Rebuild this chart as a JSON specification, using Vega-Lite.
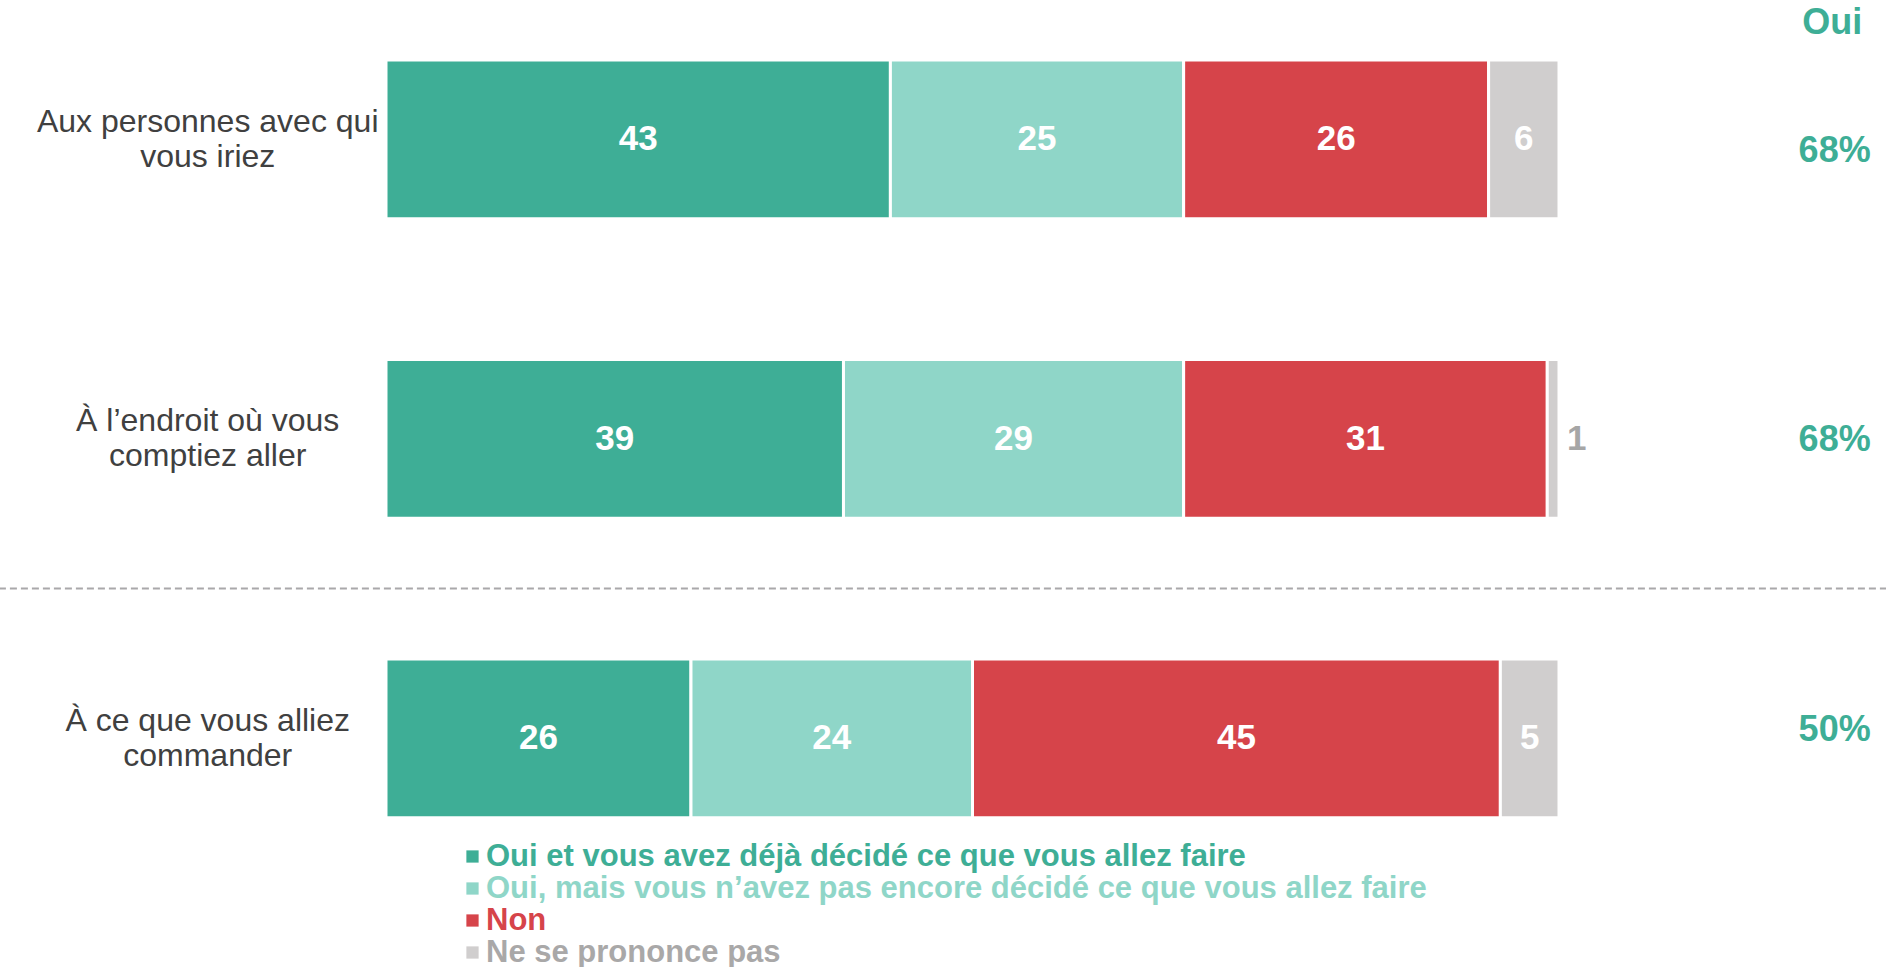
{
  "$schema": "https://vega.github.io/schema/vega-lite/v6.json",
  "width": 1886,
  "height": 967,
  "padding": 0,
  "autosize": "none",
  "background": "white",
  "config": {"view": {"stroke": null}, "font": "Liberation Sans"},
  "datasets": {
    "bars": [
      {"q": "Q1", "cat": "Oui et vous avez déjà décidé ce que vous allez faire", "value": 43, "ord": 1},
      {"q": "Q1", "cat": "Oui, mais vous n’avez pas encore décidé ce que vous allez faire", "value": 25, "ord": 2},
      {"q": "Q1", "cat": "Non", "value": 26, "ord": 3},
      {"q": "Q1", "cat": "Ne se prononce pas", "value": 6, "ord": 4},
      {"q": "Q2", "cat": "Oui et vous avez déjà décidé ce que vous allez faire", "value": 39, "ord": 1},
      {"q": "Q2", "cat": "Oui, mais vous n’avez pas encore décidé ce que vous allez faire", "value": 29, "ord": 2},
      {"q": "Q2", "cat": "Non", "value": 31, "ord": 3},
      {"q": "Q2", "cat": "Ne se prononce pas", "value": 1, "ord": 4},
      {"q": "Q3", "cat": "Oui et vous avez déjà décidé ce que vous allez faire", "value": 26, "ord": 1},
      {"q": "Q3", "cat": "Oui, mais vous n’avez pas encore décidé ce que vous allez faire", "value": 24, "ord": 2},
      {"q": "Q3", "cat": "Non", "value": 45, "ord": 3},
      {"q": "Q3", "cat": "Ne se prononce pas", "value": 5, "ord": 4}
    ],
    "questions": [
      {"q": "Q1", "label": ["Aux personnes avec qui", "vous iriez"], "oui": "68%"},
      {"q": "Q2", "label": ["À l’endroit où vous", "comptiez aller"], "oui": "68%"},
      {"q": "Q3", "label": ["À ce que vous alliez", "commander"], "oui": "50%"}
    ]
  },
  "resolve": {"scale": {"y": "independent"}},
  "layer": [
    {
      "layer": [
        {
          "data": {"name": "bars"},
          "transform": [
            {"stack": "value", "groupby": ["q"], "sort": [{"field": "ord", "order": "ascending"}], "as": ["x0", "x1"]}
          ],
          "layer": [
            {
              "mark": {"type": "bar", "stroke": "white", "strokeWidth": 3},
              "encoding": {
                "y": {"field": "q", "type": "nominal", "axis": null,
                      "scale": {"domain": ["Q1", "Q2", "Q3"], "range": [60, 817.7], "paddingInner": 0.47, "paddingOuter": 0}},
                "x": {"field": "x0", "type": "quantitative", "axis": null,
                      "scale": {"domain": [0, 100], "range": [386, 1559], "nice": false, "zero": false, "clamp": false}},
                "x2": {"field": "x1"},
                "color": {
                  "field": "cat", "type": "nominal",
                  "scale": {
                    "domain": ["Oui et vous avez déjà décidé ce que vous allez faire", "Oui, mais vous n’avez pas encore décidé ce que vous allez faire", "Non", "Ne se prononce pas"],
                    "range": ["#3eae96", "#8fd6c8", "#d6444a", "#d0cece"]
                  },
                  "legend": {
                    "orient": "none", "legendX": 457, "legendY": 841, "direction": "vertical",
                    "title": null, "symbolType": "square", "symbolSize": 150, "symbolStrokeWidth": 0,
                    "labelFont": "Liberation Sans", "labelFontSize": 31, "labelFontWeight": "bold",
                    "labelOffset": -2, "rowPadding": 0, "padding": 0, "labelLimit": 1200,
                    "labelColor": {"expr": "datum.value === 'Ne se prononce pas' ? '#a9a8a8' : scale('color', datum.value)"}
                  }
                }
              }
            },
            {
              "transform": [{"filter": "datum.value >= 3"}, {"calculate": "(datum.x0 + datum.x1) / 2", "as": "xm"}],
              "mark": {"type": "text", "color": "white", "fontSize": 35, "fontWeight": "bold", "baseline": "middle", "align": "center", "font": "Liberation Sans"},
              "encoding": {
                "y": {"field": "q", "type": "nominal"},
                "x": {"field": "xm", "type": "quantitative"},
                "text": {"field": "value"}
              }
            },
            {
              "transform": [{"filter": "datum.value < 3"}],
              "mark": {"type": "text", "color": "#a6a6a6", "fontSize": 35, "fontWeight": "bold", "baseline": "middle", "align": "left", "dx": 8, "font": "Liberation Sans"},
              "encoding": {
                "y": {"field": "q", "type": "nominal"},
                "x": {"field": "x1", "type": "quantitative"},
                "text": {"field": "value"}
              }
            }
          ]
        },
        {
          "data": {"name": "questions"},
          "mark": {"type": "text", "color": "#404040", "fontSize": 32, "baseline": "middle", "align": "center", "lineHeight": 35, "dy": -17.5, "font": "Liberation Sans"},
          "encoding": {
            "y": {"field": "q", "type": "nominal"},
            "x": {"datum": -15.2, "type": "quantitative"},
            "text": {"field": "label"}
          }
        },
        {
          "data": {"values": [{"h": "Oui"}]},
          "mark": {"type": "text", "color": "#3eae96", "fontSize": 36, "fontWeight": "bold", "baseline": "middle", "align": "center", "font": "Liberation Sans"},
          "encoding": {
            "y": {"datum": "Q1", "type": "nominal", "bandPosition": -0.23},
            "x": {"datum": 123.3, "type": "quantitative"},
            "text": {"field": "h"}
          }
        },
        {
          "data": {"values": [{"sep": "Q3"}]},
          "mark": {"type": "rule", "color": "#a9a8aa", "strokeWidth": 2, "strokeDash": [7, 4]},
          "encoding": {
            "y": {"field": "sep", "type": "nominal", "bandPosition": -0.444},
            "x": {"datum": -33, "type": "quantitative"},
            "x2": {"datum": 128}
          }
        }
      ]
    },
    {
      "data": {"name": "questions"},
      "mark": {"type": "text", "color": "#3eae96", "fontSize": 36, "fontWeight": "bold", "baseline": "middle", "align": "center", "font": "Liberation Sans"},
      "encoding": {
        "y": {"field": "q", "type": "ordinal", "axis": null,
              "scale": {"type": "point", "domain": ["Q1", "Q2", "Q3"], "range": [151, 729.5], "padding": 0}},
        "x": {"datum": 123.5, "type": "quantitative"},
        "text": {"field": "oui"}
      }
    }
  ]
}
